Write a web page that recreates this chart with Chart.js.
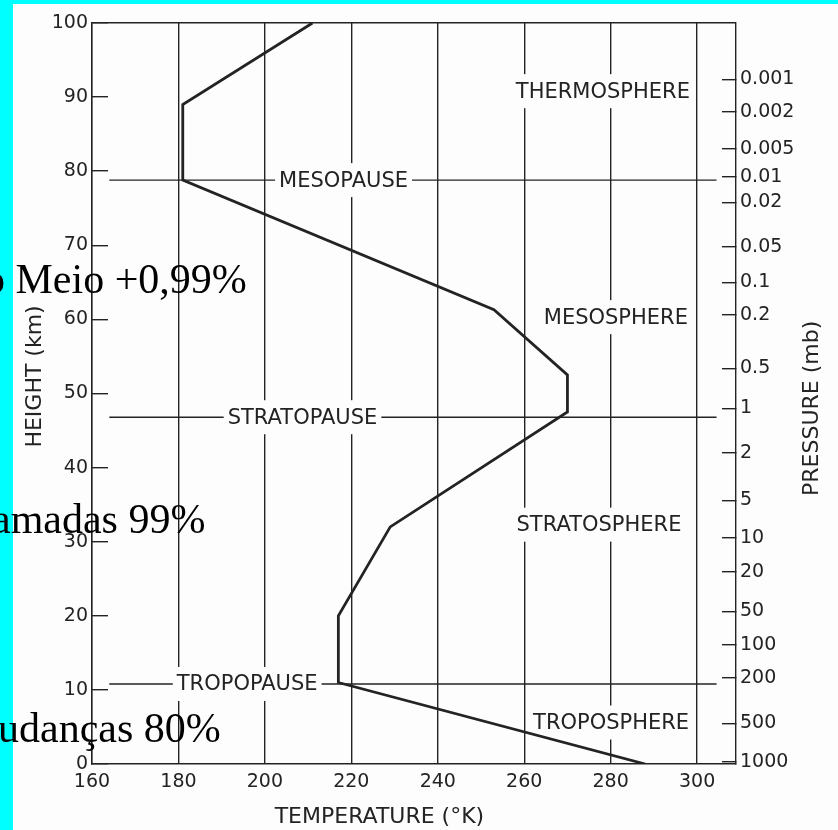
<!DOCTYPE html>
<html>
<head>
<meta charset="utf-8">
<script src="https://cdn.jsdelivr.net/npm/chart.js@4"></script>
<style>
  html, body { margin: 0; padding: 0; background: #fdfdfd; }
  #wrap { position: relative; width: 838px; height: 830px; overflow: hidden; }
  #chart { position: absolute; left: 0; top: 0; }
  .bar { position: absolute; background: #00ffff; }
  .slide { position: absolute; font-family: "Liberation Serif", "Times New Roman", serif; font-size: 42px; line-height: 1; color: #000; white-space: nowrap; }
</style>
</head>
<body>
<div id="wrap">
  <canvas id="chart" width="838" height="830"></canvas>
  <div class="bar" style="left:0;top:0;width:13px;height:830px"></div>
  <div class="bar" style="left:0;top:0;width:838px;height:4px"></div>
  <div class="slide" style="left:-16px;top:258px">o Meio +0,99%</div>
  <div class="slide" style="left:-8px;top:498px">amadas 99%</div>
  <div class="slide" style="left:-2px;top:707px">udanças 80%</div>
</div>
<script>
// temperature profile, standard atmosphere
const tempK    = [288, 217, 217, 229, 270, 270, 253, 181, 181, 211];
const heightKm = [0, 11, 20, 32, 47.5, 52.5, 61.3, 78.8, 89, 100];

const tempTicks   = [160, 180, 200, 220, 240, 260, 280, 300];
const heightTicks = [0, 10, 20, 30, 40, 50, 60, 70, 80, 90, 100];

const pressureLabels  = ['0.001', '0.002', '0.005', '0.01', '0.02', '0.05', '0.1', '0.2', '0.5', '1',
                         '2', '5', '10', '20', '50', '100', '200', '500', '1000'];
const pressureHeights = [92.4, 88.0, 83.0, 79.2, 75.8, 69.8, 65.0, 60.6, 53.4, 48.0,
                         42.0, 35.6, 30.5, 25.9, 20.6, 16.1, 11.6, 5.5, 0.3];

const layerNames  = ['THERMOSPHERE', 'MESOSPHERE', 'STRATOSPHERE', 'TROPOSPHERE'];
const pauseNames  = ['MESOPAUSE', 'STRATOPAUSE', 'TROPOPAUSE'];
const pauseHeights = [78.8, 46.8, 10.8];

const INK = '#232323';
const PAPER = '#fdfdfd';
const TICK_FONT = { family: 'DejaVu Sans', size: 19 };

// where the labels sit (temperature, height)
const layerSpots = [[278.2, 90.8], [281.2, 60.3], [277.3, 32.3], [280.1, 5.6]];
const pauseLabelAt = [218.2, 208.7, 195.9];
const pauseSpan = [164, 304.5];

// labels go on after the pause lines, under the profile (dataset 0 is drawn last)
const paperLabels = {
  id: 'paperLabels',
  beforeDatasetDraw(chart, args) {
    if (args.index !== 0) return;
    const { ctx, scales: { x, y } } = chart;
    ctx.save();
    ctx.font = '21px "DejaVu Sans"';
    ctx.textAlign = 'center';
    ctx.textBaseline = 'middle';
    const put = (text, t, h, half) => {
      const px = x.getPixelForValue(t), py = y.getPixelForValue(h);
      const w = ctx.measureText(text).width;
      ctx.fillStyle = PAPER;
      ctx.fillRect(px - w / 2 - 4, py - half, w + 8, half * 2);
      ctx.fillStyle = INK;
      ctx.fillText(text, px, py + 1);
    };
    layerNames.forEach((n, i) => put(n, layerSpots[i][0], layerSpots[i][1], 17));
    pauseNames.forEach((n, i) => put(n, pauseLabelAt[i], pauseHeights[i], 17));
    ctx.restore();
  },
  afterDraw(chart) {
    const { ctx, scales: { x, y } } = chart;
    ctx.save();
    ctx.font = '22px "DejaVu Sans"';
    ctx.fillStyle = INK;
    ctx.textAlign = 'center';
    ctx.textBaseline = 'middle';
    ctx.fillText('TEMPERATURE (°K)', x.getPixelForValue(226.5), chart.chartArea.bottom + 53);
    const vert = (text, cx, cy) => {
      ctx.save();
      ctx.translate(cx, cy);
      ctx.rotate(-Math.PI / 2);
      ctx.fillText(text, 0, 0);
      ctx.restore();
    };
    vert('HEIGHT (km)', 35, y.getPixelForValue(52.3));
    vert('PRESSURE (mb)', 812, y.getPixelForValue(48));
    ctx.restore();
  }
};

const profile = tempK.map((t, i) => ({ x: t, y: heightKm[i] }));
const pauseSets = pauseHeights.map(h => ({
  data: [{ x: pauseSpan[0], y: h }, { x: pauseSpan[1], y: h }],
  showLine: true,
  borderColor: INK,
  borderWidth: 1.4,
  pointRadius: 0
}));

new Chart(document.getElementById('chart'), {
  type: 'scatter',
  data: {
    datasets: [{
      data: profile,
      showLine: true,
      borderColor: INK,
      borderWidth: 2.8,
      pointRadius: 0,
      tension: 0
    }, ...pauseSets]
  },
  options: {
    responsive: false,
    animation: false,
    layout: { padding: { top: 23, left: 0, right: 0, bottom: 0 } },
    plugins: { legend: { display: false }, tooltip: { enabled: false } },
    scales: {
      x: {
        type: 'linear',
        position: 'bottom',
        min: 160,
        max: 309,
        afterBuildTicks: s => { s.ticks = tempTicks.map(v => ({ value: v })); },
        afterFit: s => { s.height = 66; },
        grid: { color: INK, lineWidth: 1.4, drawTicks: false },
        border: { display: true, color: INK, width: 1.4 },
        ticks: { color: INK, font: TICK_FONT, padding: 7, maxRotation: 0 }
      },
      y: {
        type: 'linear',
        position: 'left',
        min: 0,
        max: 100,
        afterBuildTicks: s => { s.ticks = heightTicks.map(v => ({ value: v })); },
        afterFit: s => { s.width = 92; s.paddingTop = 0; s.paddingBottom = 0; },
        grid: {
          color: c => (c.tick && c.tick.value === 100 ? INK : 'rgba(0,0,0,0)'),
          tickColor: INK,
          lineWidth: 1.4,
          tickLength: -16
        },
        border: { display: true, color: INK, width: 1.4 },
        ticks: { color: INK, font: TICK_FONT, padding: 20, autoSkip: false }
      },
      y2: {
        type: 'linear',
        position: 'right',
        min: 0,
        max: 100,
        afterBuildTicks: s => { s.ticks = pressureHeights.map(v => ({ value: v })); },
        afterFit: s => { s.width = 102; s.paddingTop = 0; s.paddingBottom = 0; },
        grid: { drawOnChartArea: false, color: INK, lineWidth: 1.4, tickLength: -14 },
        border: { display: true, color: INK, width: 1.4 },
        ticks: {
          color: INK,
          font: TICK_FONT,
          padding: 18,
          autoSkip: false,
          callback: (v, i) => pressureLabels[i]
        }
      }
    }
  },
  plugins: [paperLabels]
});
</script>
</body>
</html>
